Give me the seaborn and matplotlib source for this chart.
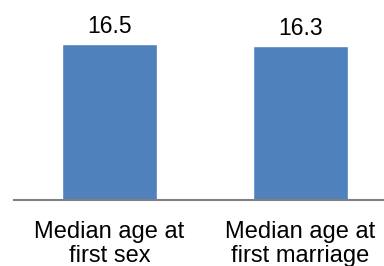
import matplotlib
matplotlib.use("Agg")
import matplotlib.pyplot as plt
import seaborn as sns

categories = ["Median age at\nfirst sex", "Median age at\nfirst marriage"]
values = [16.5, 16.3]
value_labels = ["16.5", "16.3"]

sns.set_style("white")
plt.rcParams['font.family'] = ['Liberation Sans', 'DejaVu Sans']
plt.rcParams['text.color'] = 'black'
plt.rcParams['xtick.color'] = 'black'

fig = plt.figure(figsize=(3.84, 2.66), dpi=100)
ax = fig.add_axes([14 / 384, 66 / 266, 370 / 384, 200 / 266])

sns.barplot(x=categories, y=values, color="#4F81BD", saturation=1, width=0.5, ax=ax)

ax.bar_label(ax.containers[0], labels=value_labels, padding=4, fontsize=16.5, color="black")

ax.set_ylim(0, 21.16)
ax.set_xlim(-0.5, 1.437)
ax.set_yticks([])
for side in ["left", "right", "top"]:
    ax.spines[side].set_visible(False)
ax.spines["bottom"].set_color("#808080")
ax.spines["bottom"].set_linewidth(1.5)
ax.tick_params(axis="x", length=0, pad=15, labelsize=17, labelcolor="black")
for t in ax.get_xticklabels():
    t.set_linespacing(1.15)

fig.savefig("out.png", dpi=100)
